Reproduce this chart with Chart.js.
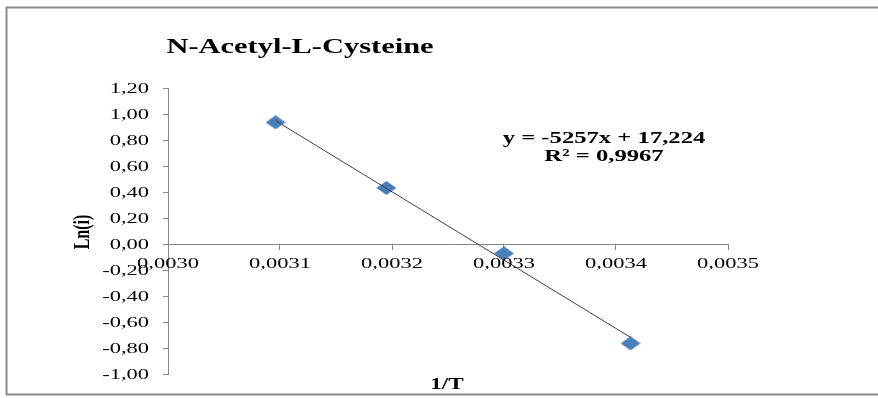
<!DOCTYPE html>
<html>
<head>
<meta charset="utf-8">
<script src="https://cdn.jsdelivr.net/npm/chart.js@4.4.1/dist/chart.umd.min.js"></script>
<style>
  html, body { margin: 0; padding: 0; background: #ffffff; }
  #wrap { width: 878px; height: 398px; }
</style>
</head>
<body>
<div id="wrap"><canvas id="chart" width="878" height="398"></canvas></div>
<script>
// Measured points: 1/T against ln(i)
const invT = [0.003096, 0.003195, 0.0033, 0.003413];
const lnI = [0.936, 0.431, -0.072, -0.764];

// Linear fit shown on the chart
const trendSlope = -5257;
const trendIntercept = 17.224;
const rSquared = 0.9967;

// Axis ranges and tick steps
const xRange = [0.0030, 0.0035];
const xStep = 0.0001;
const yRange = [-1.0, 1.2];
const yStep = 0.2;

const chartTitle = 'N-Acetyl-L-Cysteine';
const xTitle = '1/T';
const yTitle = 'Ln(i)';

const comma = (v, d) => (Math.abs(v) < 1e-12 ? 0 : v).toFixed(d).replace('.', ',');

// Diamond marker, slightly wider than tall
function makeDiamond(w, h, color) {
  const c = document.createElement('canvas');
  c.width = w; c.height = h;
  const g = c.getContext('2d');
  g.fillStyle = color;
  g.beginPath();
  g.moveTo(w / 2, 0);
  g.lineTo(w, h / 2);
  g.lineTo(w / 2, h);
  g.lineTo(0, h / 2);
  g.closePath();
  g.fill();
  return c;
}
const diamond = makeDiamond(20, 14, '#4a7ebb');

// Wide serif lettering
const SX = 1.45;
const SERIF = '"Liberation Serif", "Times New Roman", serif';
function wideText(ctx, text, x, y, font, align, rot) {
  ctx.save();
  ctx.translate(x, y);
  ctx.scale(SX, 1);
  if (rot) ctx.rotate(rot);
  ctx.font = font;
  ctx.fillStyle = '#000000';
  ctx.textAlign = align;
  ctx.textBaseline = 'middle';
  ctx.fillText(text, 0, 0);
  ctx.restore();
}

const textAndFrame = {
  id: 'textAndFrame',
  afterDraw(chart) {
    const ctx = chart.ctx;
    const xs = chart.scales.x, ys = chart.scales.y;
    const tickFont = '15.5px ' + SERIF;

    // y tick labels
    ys.ticks.forEach(t => {
      wideText(ctx, comma(t.value, 2), ys.right - 19, ys.getPixelForValue(t.value) + 1, tickFont, 'right');
    });
    // x tick labels, below the axis line at y = 0
    const y0 = ys.getPixelForValue(0);
    xs.ticks.forEach(t => {
      wideText(ctx, comma(t.value, 4), xs.getPixelForValue(t.value), y0 + 20, tickFont, 'center');
    });

    // titles
    wideText(ctx, chartTitle, 300, 48, 'bold 21px ' + SERIF, 'center');
    wideText(ctx, xTitle, 447, 385, 'bold 16px ' + SERIF, 'center');
    wideText(ctx, yTitle, 83, 232, 'bold 16px ' + SERIF, 'center', -Math.PI / 2);

    // fit equation
    const eq = 'y = ' + trendSlope + 'x + ' + comma(trendIntercept, 3);
    wideText(ctx, eq, 604, 139, 'bold 17px ' + SERIF, 'center');
    wideText(ctx, 'R\u00B2 = ' + comma(rSquared, 4), 604, 157, 'bold 17px ' + SERIF, 'center');

    // outer frame (left, top, bottom)
    ctx.save();
    ctx.strokeStyle = '#8a8a8a';
    ctx.lineWidth = 2;
    ctx.beginPath();
    ctx.moveTo(878, 7.5);
    ctx.lineTo(6.5, 7.5);
    ctx.lineTo(6.5, 394.5);
    ctx.lineTo(878, 394.5);
    ctx.stroke();
    ctx.restore();
  }
};

const xFirst = Math.min(...invT), xLast = Math.max(...invT);
const trendPoints = [xFirst, xLast].map(x => ({ x: x, y: trendSlope * x + trendIntercept }));

const axisGrey = '#868686';

new Chart(document.getElementById('chart'), {
  type: 'scatter',
  data: {
    datasets: [
      {
        label: 'Linear (Ln(i))',
        data: trendPoints,
        showLine: true,
        borderColor: '#3f3f3f',
        borderWidth: 1,
        pointRadius: 0,
        order: 0
      },
      {
        label: 'Ln(i)',
        data: invT.map((x, i) => ({ x: x, y: lnI[i] })),
        pointStyle: diamond,
        pointRadius: 10,
        backgroundColor: '#4a7ebb',
        borderColor: '#4a7ebb',
        order: 1
      }
    ]
  },
  options: {
    responsive: false,
    animation: false,
    devicePixelRatio: 1,
    layout: { padding: { left: 0, top: 88, right: 150, bottom: 24 } },
    plugins: {
      legend: { display: false },
      tooltip: { enabled: false },
      title: { display: false }
    },
    scales: {
      x: {
        type: 'linear',
        position: { y: 0 },
        min: xRange[0],
        max: xRange[1],
        ticks: { stepSize: xStep, display: false },
        grid: { drawOnChartArea: false, drawTicks: true, tickLength: 5, color: axisGrey },
        border: { display: true, color: axisGrey, width: 1 }
      },
      y: {
        type: 'linear',
        position: 'left',
        min: yRange[0],
        max: yRange[1],
        ticks: { stepSize: yStep, display: false },
        grid: { drawOnChartArea: false, drawTicks: true, tickLength: 5, color: axisGrey },
        border: { display: true, color: axisGrey, width: 1 },
        afterFit(scale) { scale.width = 168; }
      }
    }
  },
  plugins: [textAndFrame]
});
</script>
</body>
</html>
